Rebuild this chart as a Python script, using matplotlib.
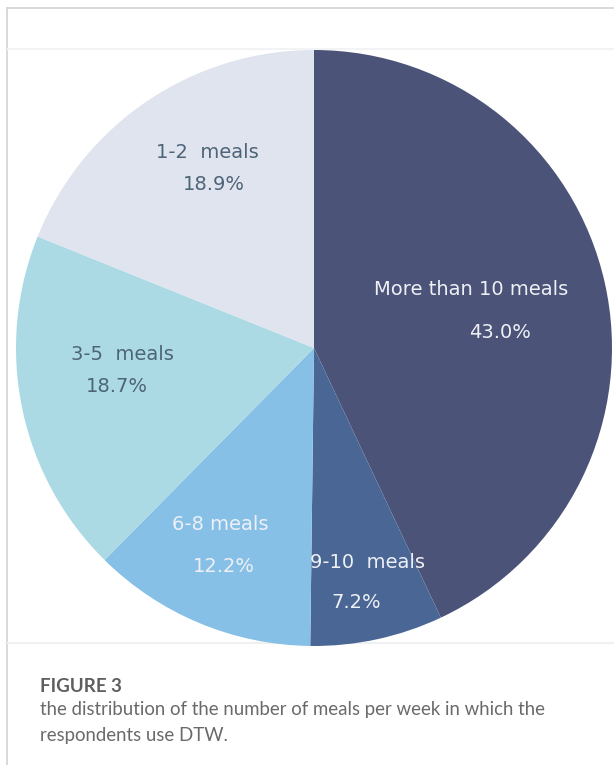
import matplotlib
matplotlib.use("Agg")
import matplotlib.pyplot as plt
from matplotlib.lines import Line2D

# data
categories = ["More than 10 meals", "9-10  meals", "6-8 meals", "3-5  meals", "1-2  meals"]
shares = [43.0, 7.2, 12.2, 18.7, 18.9]
colors = ["#4b5478", "#4a6694", "#86c0e6", "#abdae4", "#dfe4ee"]
text_colors = ["#eef0f5", "#eef0f5", "#eef0f5", "#4e6478", "#4e6478"]

# label anchors in pixels of the original picture (name centre, value centre)
name_pos = [(471, 290), (367, 562), (220, 525), (122, 355), (207, 153)]
value_pos = [(500, 333), (356, 603), (224, 567), (117, 387), (214, 185)]

W, H = 614, 765
cx, cy, R = 314, 348, 298

fig = plt.figure(figsize=(W / 100, H / 100), dpi=100)
fig.patch.set_facecolor("white")

# frame lines of the page
fig.add_artist(Line2D([7 / W, 1], [1 - 8 / H, 1 - 8 / H], color="#d3d3d3", lw=1.2, zorder=0))
fig.add_artist(Line2D([7 / W, 7 / W], [0, 1 - 8 / H], color="#d3d3d3", lw=1.2, zorder=0))
# faint edges of the embedded image
fig.add_artist(Line2D([8 / W, 1], [1 - 49 / H, 1 - 49 / H], color="#f1f3f4", lw=1.5, zorder=0))
fig.add_artist(Line2D([8 / W, 1], [1 - 643 / H, 1 - 643 / H], color="#eef0f1", lw=1.5, zorder=0))

ax = fig.add_axes([(cx - R) / W, (H - cy - R) / H, 2 * R / W, 2 * R / H], zorder=1)
ax.pie(shares, colors=colors, startangle=90, counterclock=False,
       wedgeprops=dict(linewidth=0))
ax.set_xlim(-1, 1)
ax.set_ylim(-1, 1)
ax.set_aspect("equal")
ax.axis("off")

def to_data(p):
    return (p[0] - cx) / R, -(p[1] - cy) / R

for i, cat in enumerate(categories):
    x, y = to_data(name_pos[i])
    ax.text(x, y, cat, ha="center", va="center", fontsize=14,
            family="DejaVu Sans", color=text_colors[i])
    x, y = to_data(value_pos[i])
    ax.text(x, y, f"{shares[i]:.1f}%", ha="center", va="center", fontsize=14,
            family="DejaVu Sans", color=text_colors[i])

# caption
fig.text(40 / W, 1 - 686 / H, "FIGURE 3", ha="left", va="center", fontsize=13.5,
         family="Lato", weight="bold", color="#5e5e5e")
fig.text(40 / W, 1 - 709 / H,
         "the distribution of the number of meals per week in which the",
         ha="left", va="center", fontsize=13.4, family="Lato", color="#6a6a6a")
fig.text(40 / W, 1 - 735 / H, "respondents use DTW.",
         ha="left", va="center", fontsize=13.4, family="Lato", color="#6a6a6a")

fig.savefig("out.png", dpi=100)
